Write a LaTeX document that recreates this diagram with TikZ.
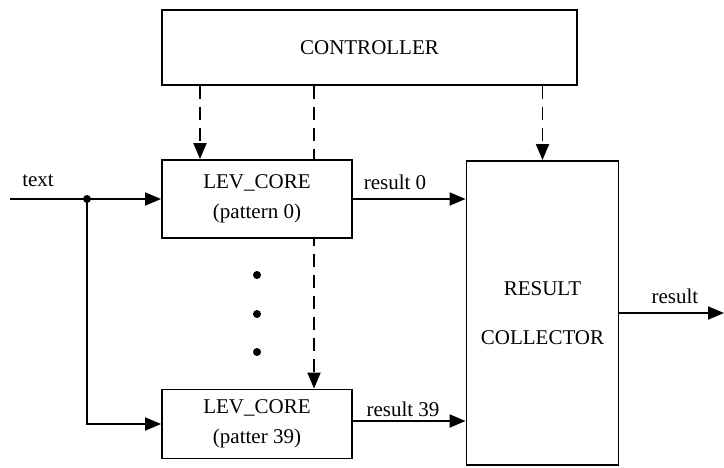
\documentclass[tikz,border=0pt]{standalone}
\usepackage{fontspec}
\setmainfont{Liberation Serif}
\usetikzlibrary{arrows.meta}
\begin{document}
\begin{tikzpicture}[x=1pt,y=-1pt,
  blk/.style={draw,line width=1.9pt,fill=white,inner sep=0pt,align=center,
    font=\fontsize{21}{30}\selectfont},
  lbl/.style={inner sep=0pt,font=\fontsize{21}{24}\selectfont},
  conn/.style={line width=1.9pt,-{Triangle[length=16pt,width=13pt]}},
  dsh/.style={conn,dash pattern=on 13pt off 8pt},
  dotmark/.style={circle,fill=black,inner sep=0pt,minimum size=8pt}]
\useasboundingbox (0,0) rectangle (724,467);
\node[blk,minimum width=415pt,minimum height=75pt] (ctrl) at (369.5,47.5) {CONTROLLER};
\node[blk,minimum width=190pt,minimum height=69pt] (core39) at (257,424) {LEV\_CORE\\(patter 39)};
\node[blk,minimum width=152pt,minimum height=304pt,font=\fontsize{21}{49}\selectfont] (coll) at (542.5,313) {RESULT\\COLLECTOR};
\coordinate (mid) at (314,0);
\coordinate (left) at (200,0);
\draw[dsh] (ctrl.south -| mid) -- (core39.north -| mid);
\node[blk,minimum width=190pt,minimum height=78pt] (core0) at (257,199) {LEV\_CORE\\(pattern 0)};
\draw[dsh] (ctrl.south -| left) -- (core0.north -| left);
\draw[dsh] (ctrl.south -| coll.north) -- (coll.north);
% input
\coordinate (in) at (10,199);
\node[dotmark] (j) at (87,199) {};
\draw[conn] (in) -- (core0.west);
\draw[conn] (j.center) |- (core39.west);
\node[lbl] (ltext) at (38,181) {text};
% results
\draw[conn] (core0.east) -- (core0.east -| coll.west);
\coordinate (r39) at ([yshift=3pt]core39.east);
\draw[conn] (r39) -- (r39 -| coll.west);
\node[lbl] (lr0) at (395,182) {result 0};
\node[lbl] (lr39) at (403,409) {result 39};
\coordinate (out) at (724,313);
\draw[conn] (coll.east) -- (out);
\node[lbl] (lres) at (675,296) {result};
% dots
\node[dotmark] (d1) at (257,275) {};
\node[dotmark] (d2) at (257,314) {};
\node[dotmark] (d3) at (257,352) {};
\end{tikzpicture}
\end{document}
